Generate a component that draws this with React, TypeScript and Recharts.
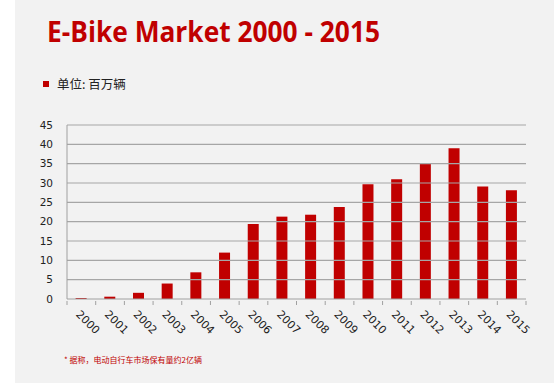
import { Bar, BarChart, Legend, ReferenceLine, XAxis, YAxis } from "recharts"

const years = [
  "2000", "2001", "2002", "2003", "2004", "2005", "2006", "2007",
  "2008", "2009", "2010", "2011", "2012", "2013", "2014", "2015",
]
// 百万辆
const sales = [0.25, 0.6, 1.6, 4.0, 6.9, 12.0, 19.4, 21.3, 21.8, 23.8, 29.7, 31.0, 35.1, 39.0, 29.1, 28.1]
const yTicks = [0, 5, 10, 15, 20, 25, 30, 35, 40, 45]
const gridValues = [5, 10, 15, 20, 25, 30, 35, 40, 45]

const RED = "#c00000"
const AXIS = "#a0a0a0"
const W = 554
const H = 386
const M = { top: 106, right: 28, left: 27, bottom: 37 }
const Y_WIDTH = 40
const band = (W - M.left - Y_WIDTH - M.right) / years.length

const data = years.map((year, i) => ({ year, sales: sales[i] }))

const YearTick = ({ x, y, payload, index }: any) => {
  const half = band / 2
  const tx = x - 6
  const ty = y + 8
  return (
    <g>
      <line x1={x - half} y1={y - 6} x2={x - half} y2={y - 2} stroke={AXIS} />
      {index === years.length - 1 && (
        <line x1={x + half} y1={y - 6} x2={x + half} y2={y - 2} stroke={AXIS} />
      )}
      <text
        x={tx}
        y={ty}
        textAnchor="start"
        fontSize={11}
        fill="#222"
        fontFamily="DejaVu Sans"
        transform={`rotate(45 ${tx} ${ty})`}
      >
        {payload.value}
      </text>
    </g>
  )
}

const UnitLegend = ({ payload }: any) => (
  <div style={{ display: "flex", alignItems: "center", fontFamily: "Noto Sans CJK SC", fontSize: 12.5, color: "#222" }}>
    {(payload || []).map((p: any) => (
      <span key={p.value} style={{ display: "flex", alignItems: "center" }}>
        <span style={{ width: 6, height: 6, background: RED, marginRight: 8 }} />
        {p.value}
      </span>
    ))}
  </div>
)

export default function App() {
  return (
    <div style={{ position: "absolute", left: 0, top: 0, width: W, height: H, background: "#fff" }}>
      <div style={{ position: "absolute", left: 15, top: 0, width: W - 15, height: 383, background: "#f2f2f2" }} />
      <svg style={{ position: "absolute", left: 0, top: 0 }} width={W} height={60}>
        <text
          x={47}
          y={42}
          fontSize={29}
          fontWeight={700}
          fill={RED}
          fontFamily="Open Sans"
          textLength={333}
          lengthAdjust="spacingAndGlyphs"
        >
          E-Bike Market 2000 - 2015
        </text>
      </svg>
      <div style={{ position: "absolute", left: 0, top: 0 }}>
        <BarChart width={W} height={H} data={data} margin={M} barCategoryGap="30%">
          <Legend
            verticalAlign="top"
            align="left"
            content={<UnitLegend />}
            wrapperStyle={{ position: "absolute", left: 43, top: 74, width: 200 }}
          />
          {gridValues.map((v) => (
            <ReferenceLine key={v} y={v} stroke="#a6a6a6" strokeWidth={1.2} />
          ))}
          <XAxis
            dataKey="year"
            height={50}
            interval={0}
            tickLine={false}
            axisLine={{ stroke: AXIS }}
            tick={<YearTick />}
          />
          <YAxis
            width={Y_WIDTH}
            domain={[0, 45]}
            ticks={yTicks}
            interval={0}
            tickLine={false}
            tickMargin={8}
            axisLine={{ stroke: AXIS }}
            tick={{ fontSize: 10.5, fill: "#222", fontFamily: "DejaVu Sans" }}
          />
          <Bar dataKey="sales" name="单位: 百万辆" fill={RED} isAnimationActive={false} />
        </BarChart>
      </div>
      <div
        style={{
          position: "absolute",
          left: 64,
          top: 354,
          fontSize: 8,
          color: RED,
          fontFamily: "Noto Sans CJK SC",
          whiteSpace: "nowrap",
        }}
      >
        * 据称，电动自行车市场保有量约2亿辆
      </div>
    </div>
  )
}
